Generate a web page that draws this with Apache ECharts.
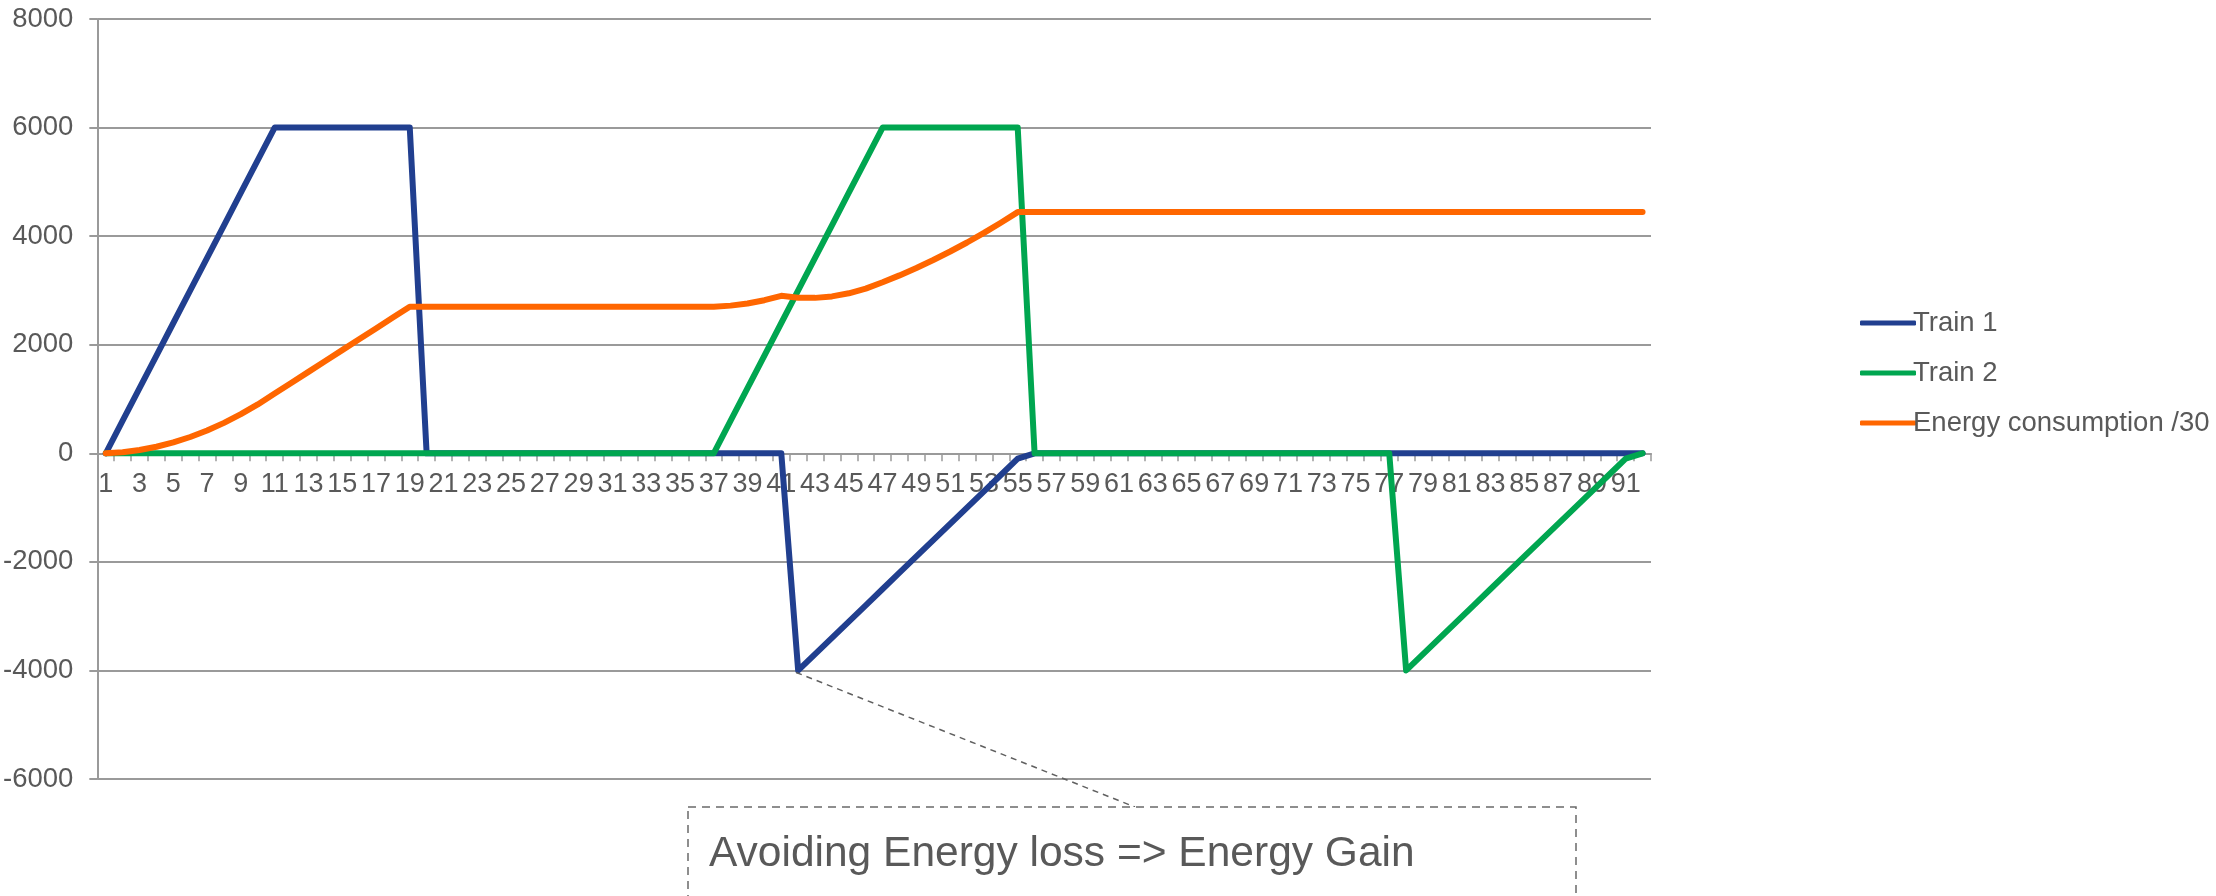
<!DOCTYPE html>
<html>
<head>
<meta charset="utf-8">
<style>
html,body{margin:0;padding:0;background:#fff;}
#chart{width:2216px;height:896px;}
</style>
<script src="https://cdn.jsdelivr.net/npm/echarts@6/dist/echarts.min.js"></script>
</head>
<body>
<div id="chart"></div>
<script>
var categories = ['1','2','3','4','5','6','7','8','9','10','11','12','13','14','15','16','17','18','19','20',
'21','22','23','24','25','26','27','28','29','30','31','32','33','34','35','36','37','38','39','40',
'41','42','43','44','45','46','47','48','49','50','51','52','53','54','55','56','57','58','59','60',
'61','62','63','64','65','66','67','68','69','70','71','72','73','74','75','76','77','78','79','80',
'81','82','83','84','85','86','87','88','89','90','91','92'];

var train1 = [0,600,1200,1800,2400,3000,3600,4200,4800,5400,6000,
6000,6000,6000,6000,6000,6000,6000,6000,
0,0,0,0,0,0,0,0,0,0,0,0,0,0,0,0,0,0,0,0,0,0,
-4000,-3700,-3400,-3100,-2800,-2500,-2200,-1900,-1600,-1300,-1000,-700,-400,-100,
0,0,0,0,0,0,0,0,0,0,0,0,0,0,0,0,0,0,0,0,0,0,0,0,0,0,0,0,0,0,0,0,0,0,0,0,0];

var train2 = [0,0,0,0,0,0,0,0,0,0,0,0,0,0,0,0,0,0,0,0,0,0,0,0,0,0,0,0,0,0,0,0,0,0,0,0,0,
600,1200,1800,2400,3000,3600,4200,4800,5400,6000,
6000,6000,6000,6000,6000,6000,6000,6000,
0,0,0,0,0,0,0,0,0,0,0,0,0,0,0,0,0,0,0,0,0,0,
-4000,-3700,-3400,-3100,-2800,-2500,-2200,-1900,-1600,-1300,-1000,-700,-400,-100,
0];

var energy = [0,20,60,120,200,300,420,560,720,900,1100,
1300,1500,1700,1900,2100,2300,2500,2700,
2700,2700,2700,2700,2700,2700,2700,2700,2700,2700,2700,2700,2700,2700,2700,2700,2700,2700,
2720,2760,2820,2900,
2867,2863,2890,2947,3033,3150,3277,3413,3560,3717,3883,4060,4247,4443,
4443,4443,4443,4443,4443,4443,4443,4443,4443,4443,4443,4443,4443,4443,4443,4443,4443,4443,4443,4443,4443,4443,4443,4443,4443,4443,4443,4443,4443,4443,4443,4443,4443,4443,4443,4443,4443];

var seriesNames = ['Train 1','Train 2','Energy consumption /30'];
var seriesColors = ['#213f8f','#00a650','#ff6600'];
var annotationText = 'Avoiding Energy loss => Energy Gain';
var annotationIndex = 41;   // category 42
var annotationValue = -4000;

var FONT = '"Liberation Sans", Arial, sans-serif';
var GRAY = '#9a9a9a';
var TEXT = '#595959';

var GRID_TOP = 19, GRID_BOTTOM = 117, Y_MIN = -6000, Y_MAX = 8000;

var chart = echarts.init(document.getElementById('chart'), null, {renderer:'canvas'});

function mkSeries(i, data){
  return {
    name: seriesNames[i], type:'line', data:data,
    symbol:'none', smooth:false,
    lineStyle:{width:6, color:seriesColors[i], cap:'round', join:'round'},
    itemStyle:{color:seriesColors[i]},
    z: 2 + i, animation:false
  };
}

chart.setOption({
  animation:false,
  backgroundColor:'#ffffff',
  grid:{left:96, right:565, top:GRID_TOP, bottom:GRID_BOTTOM, containLabel:false},
  legend:{
    orient:'vertical', left:1855, top:304,
    itemWidth:56, itemHeight:5, itemGap:22,
    icon:'roundRect',
    textStyle:{fontFamily:FONT, fontSize:27.5, color:TEXT, padding:[0,0,0,-8]},
    data:seriesNames
  },
  xAxis:{
    type:'category', data:categories, boundaryGap:true,
    axisLine:{onZero:false, lineStyle:{color:GRAY, width:2}},
    axisTick:{show:true, interval:0, length:8, lineStyle:{color:GRAY, width:1.5}},
    axisLabel:{interval:1, fontFamily:FONT, fontSize:27, color:TEXT, margin:18},
    splitLine:{show:false}
  },
  yAxis:{
    type:'value', min:Y_MIN, max:Y_MAX, interval:2000,
    axisLine:{show:true, lineStyle:{color:GRAY, width:2}},
    axisTick:{show:true, length:8, lineStyle:{color:GRAY, width:2}},
    axisLabel:{fontFamily:FONT, fontSize:27.5, color:TEXT, margin:24, formatter:function(v){return String(v);}},
    splitLine:{show:true, lineStyle:{color:GRAY, width:2}}
  },
  series:[mkSeries(0, train1), mkSeries(1, train2), mkSeries(2, energy)]
});

// move the category axis up to the zero line (computed from the value scale)
var zeroY = chart.convertToPixel({yAxisIndex:0}, 0);
var bottomY = chart.convertToPixel({yAxisIndex:0}, Y_MIN);
chart.setOption({xAxis:{offset: -(bottomY - zeroY)}});

var p = chart.convertToPixel({xAxisIndex:0, yAxisIndex:0}, [annotationIndex, annotationValue]);
chart.setOption({
  graphic:[
    {type:'line', silent:true, z:50,
     shape:{x1:p[0]-2, y1:p[1]+2, x2:1135, y2:807},
     style:{stroke:'#606060', lineWidth:1.5, lineDash:[6,5]}},
    {type:'rect', silent:true, z:50,
     shape:{x:688, y:807, width:888, height:140},
     style:{fill:'#ffffff', stroke:'#6a6a6a', lineWidth:1.5, lineDash:[8,6]}},
    {type:'text', silent:true, z:51, x:709, y:854,
     style:{text:annotationText, fontFamily:FONT, fontSize:42.5, fill:TEXT, verticalAlign:'middle', align:'left'}}
  ]
});
</script>
</body>
</html>
